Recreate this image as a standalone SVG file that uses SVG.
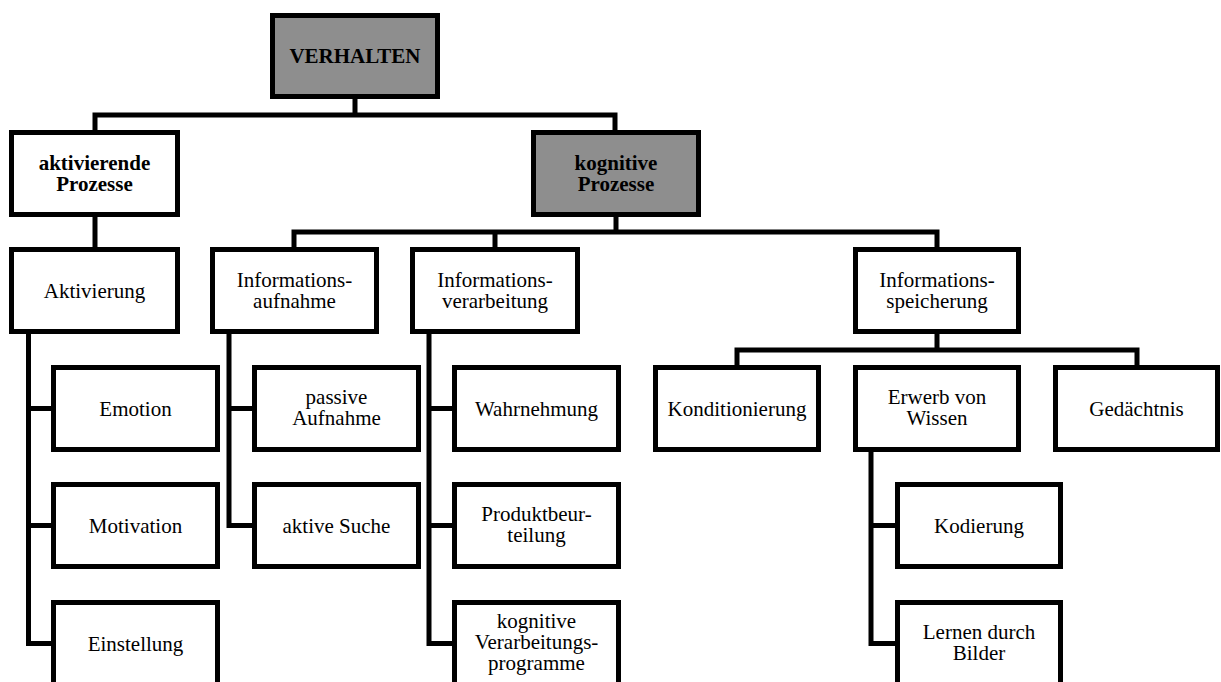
<svg xmlns="http://www.w3.org/2000/svg" width="1221" height="682" viewBox="0 0 1221 682">
  <style>
    .box { fill: #ffffff; stroke: #000000; stroke-width: 5; }
    .key { fill: #8e8e8e; }
    .lbl { font-family: "Liberation Serif", "Times New Roman", serif; font-size: 21px; fill: #000000; text-anchor: middle; }
    .bold { font-weight: bold; }
    .wire { fill: none; stroke: #000000; stroke-width: 5; stroke-linejoin: miter; stroke-linecap: butt; }
  </style>
  <rect width="1221" height="682" fill="#ffffff"/>

  <!-- connectors -->
  <g id="connectors">
    <path class="wire" d="M355,99 V115 M95,132 V115 H615 V132"/>
    <path class="wire" d="M95,217 V249"/>
    <path class="wire" d="M616,217 V232 M294,249 V232 H937 V249 M495,232 V249"/>
    <path class="wire" d="M28.5,334 V643.5 M26,408.5 H53 M26,525.5 H53 M26,643.5 H53"/>
    <path class="wire" d="M229,334 V525.5 M226.5,408.5 H254 M226.5,525.5 H254"/>
    <path class="wire" d="M429,334 V643.5 M426.5,408.5 H454 M426.5,525.5 H454 M426.5,643.5 H454"/>
    <path class="wire" d="M937,334 V350 M737,367 V350 H1137 V367"/>
    <path class="wire" d="M871,452 V643.5 M868.5,525.5 H897 M868.5,643.5 H897"/>
  </g>

  <g id="verhalten">
    <rect class="box key" x="272.5" y="15.5" width="165" height="81"/>
    <text class="lbl bold" x="355" y="63">VERHALTEN</text>
  </g>
  <g id="aktivierende-prozesse">
    <rect class="box" x="11.5" y="132.5" width="166" height="82"/>
    <text class="lbl bold" x="94.5" y="170">aktivierende</text>
    <text class="lbl bold" x="94.5" y="191">Prozesse</text>
  </g>
  <g id="kognitive-prozesse">
    <rect class="box key" x="533.5" y="132.5" width="165" height="82"/>
    <text class="lbl bold" x="616" y="170">kognitive</text>
    <text class="lbl bold" x="616" y="191">Prozesse</text>
  </g>

  <g id="aktivierung">
    <rect class="box" x="11.5" y="249.5" width="166" height="82"/>
    <text class="lbl" x="94.5" y="298">Aktivierung</text>
  </g>
  <g id="informationsaufnahme">
    <rect class="box" x="212.5" y="249.5" width="164" height="82"/>
    <text class="lbl" x="294.5" y="287">Informations-</text>
    <text class="lbl" x="294.5" y="308">aufnahme</text>
  </g>
  <g id="informationsverarbeitung">
    <rect class="box" x="412.5" y="249.5" width="165" height="82"/>
    <text class="lbl" x="495" y="287">Informations-</text>
    <text class="lbl" x="495" y="308">verarbeitung</text>
  </g>
  <g id="informationsspeicherung">
    <rect class="box" x="855.5" y="249.5" width="163" height="82"/>
    <text class="lbl" x="937" y="287">Informations-</text>
    <text class="lbl" x="937" y="308">speicherung</text>
  </g>

  <g id="emotion">
    <rect class="box" x="53.5" y="367.5" width="164" height="82"/>
    <text class="lbl" x="135.5" y="416">Emotion</text>
  </g>
  <g id="motivation">
    <rect class="box" x="53.5" y="484.5" width="164" height="82"/>
    <text class="lbl" x="135.5" y="533">Motivation</text>
  </g>
  <g id="einstellung">
    <rect class="box" x="53.5" y="602.5" width="164" height="82"/>
    <text class="lbl" x="135.5" y="651">Einstellung</text>
  </g>

  <g id="passive-aufnahme">
    <rect class="box" x="254.5" y="367.5" width="164" height="82"/>
    <text class="lbl" x="336.5" y="404">passive</text>
    <text class="lbl" x="336.5" y="425">Aufnahme</text>
  </g>
  <g id="aktive-suche">
    <rect class="box" x="254.5" y="484.5" width="164" height="82"/>
    <text class="lbl" x="336.5" y="533">aktive Suche</text>
  </g>

  <g id="wahrnehmung">
    <rect class="box" x="454.5" y="367.5" width="164" height="82"/>
    <text class="lbl" x="536.5" y="416">Wahrnehmung</text>
  </g>
  <g id="produktbeurteilung">
    <rect class="box" x="454.5" y="484.5" width="164" height="82"/>
    <text class="lbl" x="536.5" y="521">Produktbeur-</text>
    <text class="lbl" x="536.5" y="542">teilung</text>
  </g>
  <g id="kognitive-verarbeitungsprogramme">
    <rect class="box" x="454.5" y="602.5" width="164" height="82"/>
    <text class="lbl" x="536.5" y="628">kognitive</text>
    <text class="lbl" x="536.5" y="649">Verarbeitungs-</text>
    <text class="lbl" x="536.5" y="670">programme</text>
  </g>

  <g id="konditionierung">
    <rect class="box" x="655.5" y="367.5" width="163" height="82"/>
    <text class="lbl" x="737" y="416">Konditionierung</text>
  </g>
  <g id="erwerb-von-wissen">
    <rect class="box" x="855.5" y="367.5" width="163" height="82"/>
    <text class="lbl" x="937" y="404">Erwerb von</text>
    <text class="lbl" x="937" y="425">Wissen</text>
  </g>
  <g id="gedaechtnis">
    <rect class="box" x="1055.5" y="367.5" width="162" height="82"/>
    <text class="lbl" x="1136.5" y="416">Gedächtnis</text>
  </g>

  <g id="kodierung">
    <rect class="box" x="897.5" y="484.5" width="163" height="82"/>
    <text class="lbl" x="979" y="533">Kodierung</text>
  </g>
  <g id="lernen-durch-bilder">
    <rect class="box" x="897.5" y="602.5" width="163" height="82"/>
    <text class="lbl" x="979" y="639">Lernen durch</text>
    <text class="lbl" x="979" y="660">Bilder</text>
  </g>
</svg>
